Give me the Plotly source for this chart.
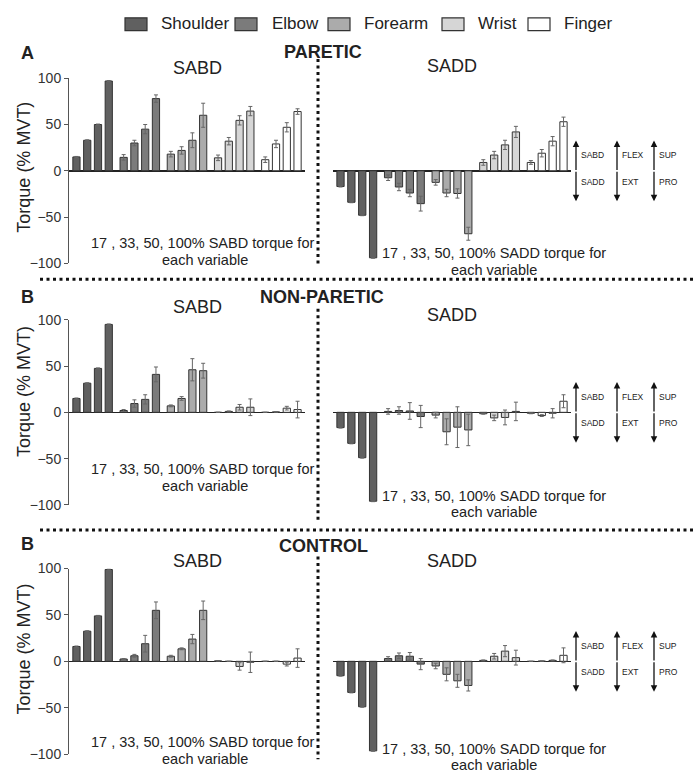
import plotly.graph_objects as go

W, H = 696, 781
def px(x):
    return x / W
def py(y):
    return 1 - y / H

FONT = "Liberation Sans, Arial, sans-serif"
TXT = "#222222"

# ---------------- data ----------------
segments = ["Shoulder", "Elbow", "Forearm", "Wrist", "Finger"]
levels = ["17%", "33%", "50%", "100%"]
seg_colors = ["#606060", "#7b7b7b", "#ababab", "#d6d6d6", "#ffffff"]

# rows = segments (Shoulder..Finger), columns = 17, 33, 50, 100 % target
paretic_sabd_mean = [[15, 33, 50, 97], [14.5, 30, 45, 78], [18, 22, 33, 60], [14, 32, 54.5, 64.5], [12, 29, 47, 64]]
paretic_sabd_err = [[0.5, 0.5, 0.5, 0.5], [3, 3, 5, 4], [3, 4, 8, 13], [3, 4, 5, 5], [3, 4, 5, 3]]
paretic_sadd_mean = [[-17, -34, -48, -94], [-7.5, -17.5, -24, -35.5], [-12.5, -24, -24.5, -68], [9, 17, 28, 42], [9, 19, 32, 53]]
paretic_sadd_err = [[0.5, 0.5, 0.5, 0.5], [3, 4, 4, 8], [3, 4, 5, 7], [3, 4, 5, 6], [2, 4, 5, 5]]

nonparetic_sabd_mean = [[15, 31.5, 47.5, 95], [2, 9.5, 14, 41], [7, 15, 46, 45], [0, 1, 5.5, 5.5], [0, 0.5, 4.5, 3]]
nonparetic_sabd_err = [[0.5, 0.5, 0.5, 0.5], [1, 4, 5, 8], [1, 2, 12, 8], [0, 0.5, 3, 9], [0, 0.3, 2, 9]]
nonparetic_sadd_mean = [[-16.5, -33.5, -49, -96], [1, 2, 1.5, -4.5], [-3, -21, -16, -19], [-1.5, -6, -5.5, 1], [-1, -3.5, -1, 12]]
nonparetic_sadd_err = [[0.5, 0.5, 0.5, 0.5], [3, 4, 9, 12], [3, 14, 22, 17], [0.5, 3, 8, 10], [0.5, 1, 5, 7]]

control_sabd_mean = [[16, 32.5, 49, 99], [2.5, 6, 19, 55], [5.5, 13.5, 24, 55], [0.5, 0, -5.5, -1], [0, 0, -3, 3.5]]
control_sabd_err = [[0.5, 0.5, 0.5, 0.5], [0.5, 1.5, 9, 9], [1, 1, 5, 10], [0.3, 0, 4, 11], [0, 0, 2, 10]]
control_sadd_mean = [[-15.5, -33.5, -49, -96.5], [3, 6, 5.5, -3], [-5, -14, -21, -26], [1, 5.5, 11, 4], [0, 0.3, 1, 6.5]]
control_sadd_err = [[0.5, 0.5, 0.5, 0.5], [2, 3, 4, 6], [3, 7, 7, 6], [0.5, 3, 6, 8], [0, 0, 0.5, 8]]

y_ticks = [-100, -50, 0, 50, 100]

panels = [
    [(paretic_sabd_mean, paretic_sabd_err), (paretic_sadd_mean, paretic_sadd_err)],
    [(nonparetic_sabd_mean, nonparetic_sabd_err), (nonparetic_sadd_mean, nonparetic_sadd_err)],
    [(control_sabd_mean, control_sabd_err), (control_sadd_mean, control_sadd_err)],
]

# ---------------- layout geometry (pixels) ----------------
rows = [dict(top=71.7, bottom=260.7), dict(top=318.3, bottom=507.3), dict(top=572.3, bottom=761.7)]
cols = [(69, 305), (333, 571)]

fig = go.Figure()
layout = {}
k = 0
for r, row in enumerate(rows):
    for c, col in enumerate(cols):
        k += 1
        mean, err = panels[r][c]
        xa = "x" if k == 1 else f"x{k}"
        ya = "y" if k == 1 else f"y{k}"
        for i, lev in enumerate(levels):
            fig.add_trace(go.Bar(
                x=segments,
                y=[mean[s][i] for s in range(len(segments))],
                error_y=dict(type="data", array=[err[s][i] for s in range(len(segments))],
                             color="#666666", thickness=1, width=2),
                marker=dict(color=seg_colors, line=dict(color="#333333", width=1)),
                offsetgroup=str(i), name=lev, xaxis=xa, yaxis=ya,
                showlegend=False, cliponaxis=False,
            ))
        xkey = "xaxis" if k == 1 else f"xaxis{k}"
        ykey = "yaxis" if k == 1 else f"yaxis{k}"
        layout[xkey] = dict(domain=[px(col[0]), px(col[1])], anchor=ya, type="category",
                            range=[-0.5, 4.5], visible=False)
        left = (c == 0)
        layout[ykey] = dict(domain=[py(row["bottom"]), py(row["top"])], anchor=xa,
                            range=[-100, 100], showgrid=False,
                            zeroline=True, zerolinecolor="#222222", zerolinewidth=1.5,
                            showline=left, linecolor="#555555", linewidth=1,
                            ticks="outside" if left else "", ticklen=4, tickcolor="#555555",
                            tickvals=y_ticks, showticklabels=left,
                            tickfont=dict(size=14, color="#333333", family=FONT))

annotations = []
shapes = []

def text(x, y, t, size=18, bold=False, xanchor="center", angle=0):
    annotations.append(dict(x=px(x), y=py(y), xref="paper", yref="paper",
                            text=f"<b>{t}</b>" if bold else t, showarrow=False,
                            xanchor=xanchor, yanchor="middle", textangle=angle,
                            font=dict(size=size, color=TXT, family=FONT)))

# panel titles
row_titles = [
    dict(letter="A", lx=27, ly=46, name="PARETIC", nx=323, ny=45, sabd=61, sadd=59, ytitle=163),
    dict(letter="B", lx=27, ly=295, name="NON-PARETIC", nx=322, ny=295, sabd=305, sadd=313, ytitle=392),
    dict(letter="B", lx=27, ly=547, name="CONTROL", nx=323, ny=549, sabd=565, sadd=565, ytitle=655),
]
for rt in row_titles:
    text(rt["lx"], rt["ly"], rt["letter"], bold=True)
    text(rt["nx"], rt["ny"], rt["name"], bold=True)
    text(197, rt["sabd"], "SABD")
    text(452, rt["sadd"], "SADD")
    text(24, rt["ytitle"], "Torque (% MVT)", angle=-90)

# footnotes
foot = [
    ((202, 240), (205, 257), (494, 250), (494, 267)),
    ((202, 471), (205, 488), (494, 498), (494, 515)),
    ((202, 749.5), (205, 766.5), (494, 756), (494, 772.5)),
]
for a, b, c2, d in foot:
    text(a[0], a[1], "17 , 33, 50, 100% SABD torque for", size=14.5)
    text(b[0], b[1], "each variable", size=14.5)
    text(c2[0], c2[1], "17 , 33, 50, 100% SADD torque for", size=14.5)
    text(d[0], d[1], "each variable", size=14.5)

# direction arrows
arrow_x = [576, 617, 654]
arrow_lbl = [("SABD", "SADD"), ("FLEX", "EXT"), ("SUP", "PRO")]
for row in rows:
    z = (row["top"] + row["bottom"]) / 2
    for ax_, (up, dn) in zip(arrow_x, arrow_lbl):
        for sgn in (-1, 1):
            annotations.append(dict(x=px(ax_), y=py(z + sgn * 31), xref="paper", yref="paper",
                                    ax=0, ay=-sgn * 31, showarrow=True, arrowhead=2,
                                    arrowsize=1, arrowwidth=1.3, arrowcolor="#111111", text=""))
        text(ax_ + 3, z - 16, up, size=8.5, xanchor="left")
        text(ax_ + 3, z + 11, dn, size=8.5, xanchor="left")

# dotted separators
dot = dict(color="#111111", width=3, dash="3px,3.5px")
for y0, y1 in [(52, 263), (307, 523), (560, 767)]:
    shapes.append(dict(type="line", xref="paper", yref="paper", x0=px(318), x1=px(318),
                       y0=py(y0), y1=py(y1), line=dot))
for yy in (277, 533):
    shapes.append(dict(type="line", xref="paper", yref="paper", x0=px(40), x1=px(696),
                       y0=py(yy), y1=py(yy), line=dot))

# legend (manual, top)
leg_patch_x = [125, 235, 328, 442, 528]
leg_text_x = [159, 270, 362, 476, 562]
for name, col, x0, tx in zip(segments, seg_colors, leg_patch_x, leg_text_x):
    shapes.append(dict(type="rect", xref="paper", yref="paper", x0=px(x0), x1=px(x0 + 22),
                       y0=py(23), y1=py(10), fillcolor=col, line=dict(color="#333333", width=1.2)))
    text(tx, 16, name, size=17, xanchor="left")

fig.update_layout(
    **layout,
    width=W, height=H,
    margin=dict(l=0, r=0, t=0, b=0),
    paper_bgcolor="white", plot_bgcolor="white",
    barmode="group", bargap=0.087, bargroupgap=0.33,
    showlegend=False, hovermode=False,
    annotations=annotations, shapes=shapes,
    font=dict(family=FONT, color=TXT),
)

fig.write_html("out.html",
               config={"displayModeBar": False, "staticPlot": True},
               post_script="document.body.style.margin='0px';document.body.style.padding='0px';")
